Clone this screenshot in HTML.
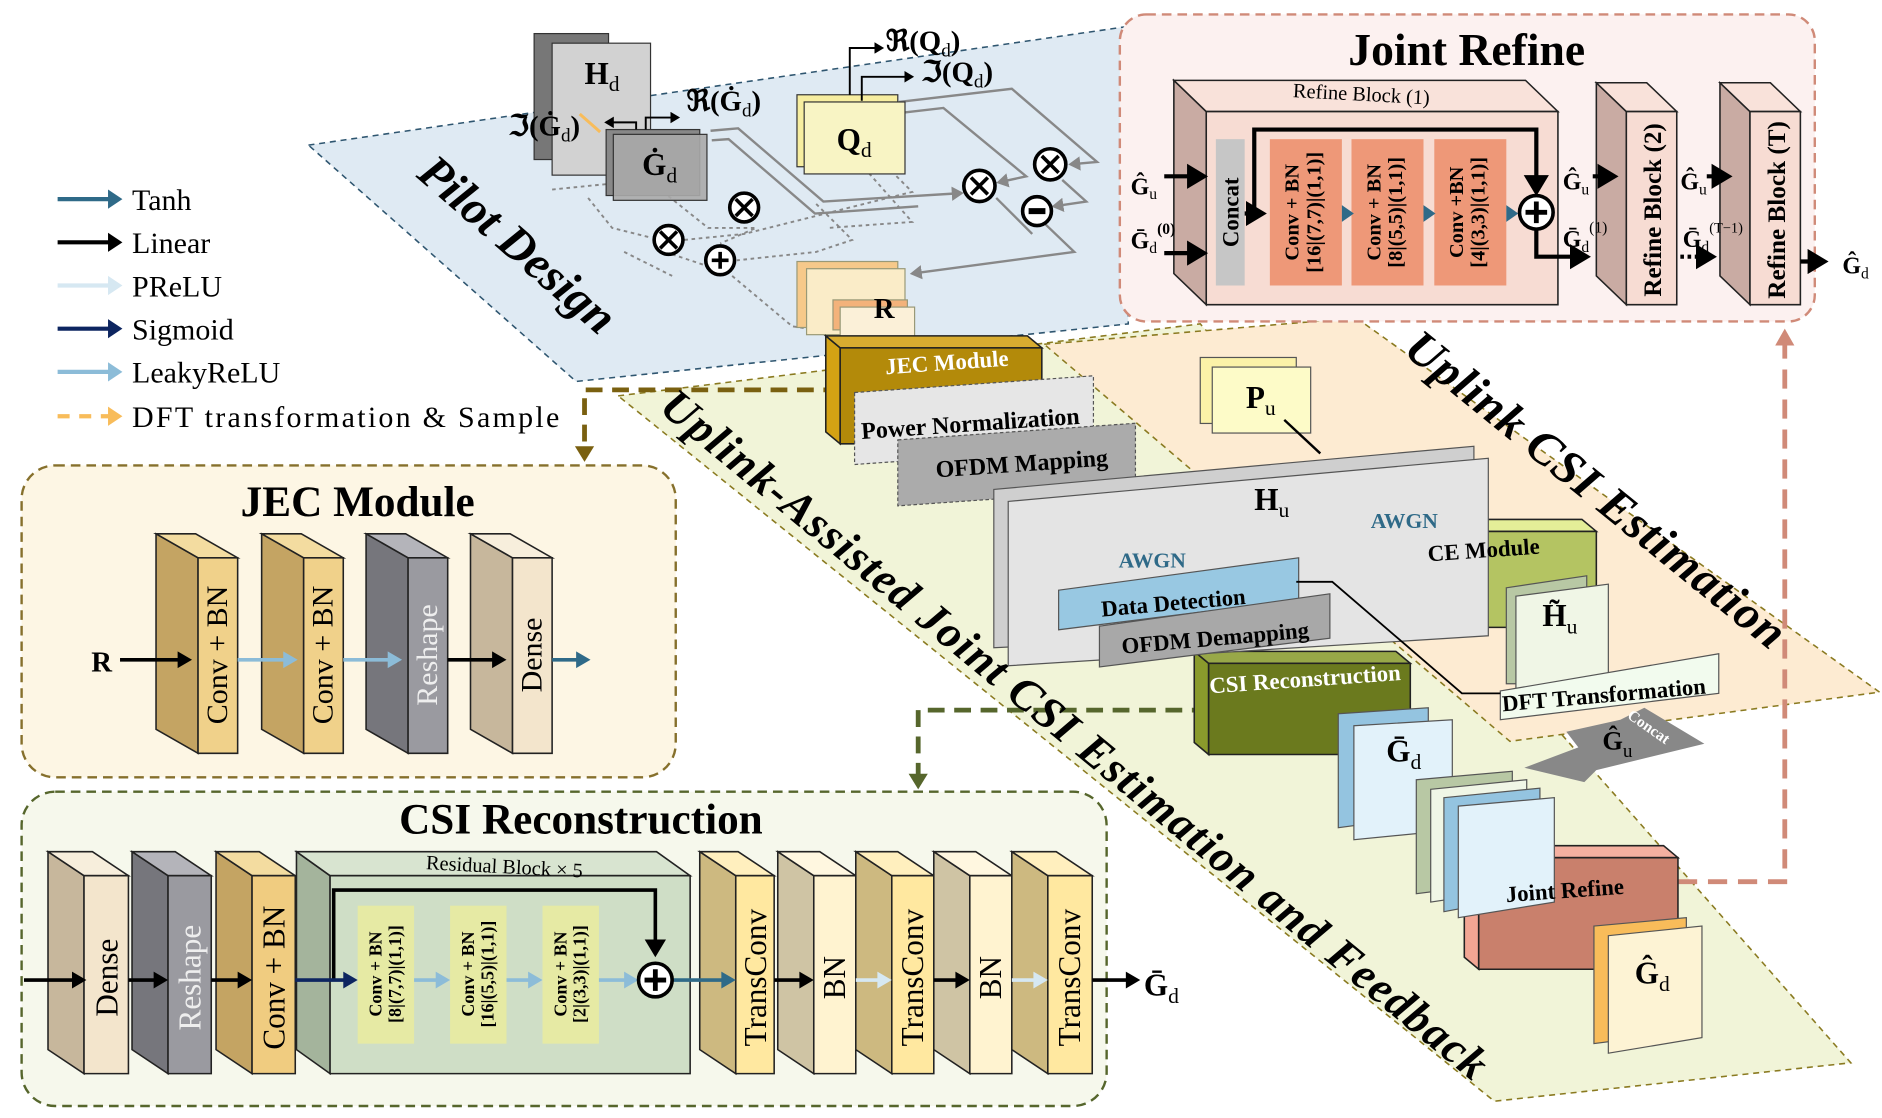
<!DOCTYPE html>
<html><head><meta charset="utf-8">
<style>
html,body{margin:0;padding:0;background:#fff;}
svg{display:block;}
text{font-family:"Liberation Serif",serif;}
.b{font-weight:bold;}
</style></head>
<body>
<svg id="s" width="1882" height="1118" viewBox="0 0 1568 932" preserveAspectRatio="none" xmlns="http://www.w3.org/2000/svg">
<defs>
<marker id="ak" markerWidth="6" markerHeight="6" refX="4" refY="3" orient="auto" markerUnits="strokeWidth"><path d="M0,0 L5,3 L0,6 z" fill="#000"/></marker>
<marker id="ag" markerWidth="6" markerHeight="6" refX="4" refY="3" orient="auto" markerUnits="strokeWidth"><path d="M0,0 L5,3 L0,6 z" fill="#888"/></marker>
</defs>
<polygon points="515,330 1000,270 1542,886 1245,918" fill="#f1f4d8" stroke="#8a7a20" stroke-width="1.3" stroke-dasharray="5,4"/>
<polygon points="870,287 1130,265 1566,577 1258,618" fill="#fdebd2" stroke="#8a7a20" stroke-width="1.3" stroke-dasharray="5,4"/>
<polygon points="257,121 940,22 940,270 480,318" fill="#dfeaf3" stroke="#2f5670" stroke-width="1.3" stroke-dasharray="5,4"/>

<rect x="933" y="12" width="579" height="256" rx="22" fill="#fcf1f0" stroke="#d08a78" stroke-width="2" stroke-dasharray="8,5"/>
<rect x="18" y="388" width="545" height="260" rx="28" fill="#fdf6e4" stroke="#86702c" stroke-width="2" stroke-dasharray="8,5"/>
<rect x="18" y="660" width="904" height="262" rx="28" fill="#f6f8ec" stroke="#56662c" stroke-width="2" stroke-dasharray="8,5"/>

<polyline points="700,325 487,325 487,375" fill="none" stroke="#7a6010" stroke-width="4" stroke-dasharray="14,8"/>
<polygon points="479,372 495,372 487,385" fill="#7a6010"/>
<polyline points="1007,592 765,592 765,648" fill="none" stroke="#56662c" stroke-width="4" stroke-dasharray="14,8"/>
<polygon points="757,645 773,645 765,658" fill="#56662c"/>
<polyline points="1398,735 1487,735 1487,285" fill="none" stroke="#d08a78" stroke-width="4" stroke-dasharray="16,9"/>
<polygon points="1479,288 1495,288 1487,274" fill="#d08a78"/>

<g stroke="#888" stroke-width="2" fill="none">
<polyline points="592,109 615,107 686,168 801,161" marker-end="url(#ag)"/>
<polyline points="593,117 607,116 679,178 765,172"/>
<polyline points="749,85 843,74 914,135 892,137" marker-end="url(#ag)"/>
<polyline points="751,94 786,90 855,147 832,152" marker-end="url(#ag)"/>
<polyline points="871,187 895,210 760,228" marker-end="url(#ag)"/>
<polyline points="830,165 860,195" />
<polyline points="885,150 905,168 878,172" marker-end="url(#ag)"/>
</g>
<g stroke="#888" stroke-width="1.6" fill="none" stroke-dasharray="3,3">
<polyline points="460,158 540,150 590,190 630,190 600,203"/>
<polyline points="490,165 510,190 542,198"/>
<polyline points="560,212 590,222"/>
<polyline points="670,135 730,130 760,160 620,195 570,200"/>
<polyline points="680,170 710,200 680,210 614,217"/>
<polyline points="720,140 760,185 690,190"/>
<polyline points="610,230 660,272 680,275"/>
<polyline points="520,210 560,230"/>
</g>
<g stroke="#000" stroke-width="3" fill="#fff">
<circle cx="557" cy="200" r="12"/><circle cx="600" cy="217" r="12"/><circle cx="620" cy="173" r="12"/>
<circle cx="816" cy="155" r="13"/><circle cx="875" cy="137" r="13"/><circle cx="864" cy="176" r="12"/>
</g>
<g stroke="#000" stroke-width="3">
<path d="M550,193 l14,14 M564,193 l-14,14"/><path d="M593,217 h14 M600,210 v14"/><path d="M613,166 l14,14 M627,166 l-14,14"/>
<path d="M809,148 l14,14 M823,148 l-14,14"/><path d="M868,130 l14,14 M882,130 l-14,14"/><path d="M857,176 h14" stroke-width="5"/>
</g>
<rect x="445" y="28" width="62" height="105" fill="#777" stroke="#333"/>
<rect x="460" y="36" width="82" height="110" fill="#d2d2d2" stroke="#333"/>
<text x="487" y="70" font-size="26" class="b">H<tspan font-size="18" dy="6" font-weight="normal">d</tspan></text>
<rect x="505" y="108" width="78" height="55" fill="#888" stroke="#333"/>
<rect x="511" y="112" width="78" height="55" fill="#aaa" stroke="#333" fill-opacity="0.9"/>
<text x="535" y="146" font-size="26" class="b">Ġ<tspan font-size="18" dy="6" font-weight="normal">d</tspan></text>
<text x="424" y="113" font-size="24" class="b">ℑ(Ġ<tspan font-size="16" dy="5" font-weight="normal">d</tspan><tspan dy="-5">)</tspan></text>
<text x="572" y="92" font-size="24" class="b">ℜ(Ġ<tspan font-size="16" dy="5" font-weight="normal">d</tspan><tspan dy="-5">)</tspan></text>
<polyline points="538,108 538,98 565,98" fill="none" stroke="#000" stroke-width="1.6" marker-end="url(#ak)"/>
<polyline points="530,108 530,102 505,102" fill="none" stroke="#000" stroke-width="1.6" marker-end="url(#ak)"/>
<line x1="483" y1="95" x2="500" y2="110" stroke="#f8bc5a" stroke-width="2.5"/>
<rect x="664" y="79" width="84" height="60" fill="#f7eea0" stroke="#333"/>
<rect x="670" y="85" width="84" height="60" fill="#f8f4c4" stroke="#333"/>
<text x="697" y="125" font-size="26" class="b">Q<tspan font-size="18" dy="6" font-weight="normal">d</tspan></text>
<polyline points="708,79 708,40 735,40" fill="none" stroke="#000" stroke-width="1.6" marker-end="url(#ak)"/>
<polyline points="718,84 718,64 760,64" fill="none" stroke="#000" stroke-width="1.6" marker-end="url(#ak)"/>
<text x="738" y="42" font-size="24" class="b">ℜ(Q<tspan font-size="16" dy="5" font-weight="normal">d</tspan><tspan dy="-5">)</tspan></text>
<text x="768" y="68" font-size="24" class="b">ℑ(Q<tspan font-size="16" dy="5" font-weight="normal">d</tspan><tspan dy="-5">)</tspan></text>
<rect x="664" y="218" width="84" height="55" fill="#f6c98a" stroke="#997"/>
<rect x="672" y="224" width="82" height="55" fill="#faecc8" stroke="#997"/>
<rect x="694" y="250" width="62" height="25" fill="#f3b27a" stroke="#997"/>
<rect x="700" y="256" width="62" height="25" fill="#fbf0d8" stroke="#997"/>
<text x="728" y="265" font-size="24" class="b">R</text>
<text x="0" y="0" font-size="40" class="b" font-style="italic" transform="translate(346,147) rotate(41)">Pilot Design</text>

<g stroke-width="3.5">
<line x1="48" y1="166" x2="92" y2="166" stroke="#2f6a88"/><polygon points="90,158 102,166 90,174" fill="#2f6a88"/>
<line x1="48" y1="202" x2="92" y2="202" stroke="#000"/><polygon points="90,194 102,202 90,210" fill="#000"/>
<line x1="48" y1="238" x2="92" y2="238" stroke="#d6e8f2"/><polygon points="90,230 102,238 90,246" fill="#d6e8f2"/>
<line x1="48" y1="274" x2="92" y2="274" stroke="#0d2560"/><polygon points="90,266 102,274 90,282" fill="#0d2560"/>
<line x1="48" y1="310" x2="92" y2="310" stroke="#8cbcd8"/><polygon points="90,302 102,310 90,318" fill="#8cbcd8"/>
<line x1="48" y1="347" x2="92" y2="347" stroke="#f8bc5a" stroke-dasharray="10,8"/><polygon points="90,339 102,347 90,355" fill="#f8bc5a"/>
</g>
<g font-size="25">
<text x="110" y="175">Tanh</text><text x="110" y="211">Linear</text><text x="110" y="247">PReLU</text>
<text x="110" y="283">Sigmoid</text><text x="110" y="319">LeakyReLU</text><text x="110" y="356" textLength="356">DFT transformation &amp; Sample</text>
</g>

<g id="blocks"></g>
<rect x="712" y="319" width="199" height="60" fill="#e6e6e6" stroke="#555" stroke-dasharray="3,2" transform="skewY(-4) translate(0,58)"/>
<rect x="748" y="357" width="198" height="55" fill="#ababab" stroke="#555" stroke-dasharray="3,2" transform="skewY(-4) translate(0,62)"/>
<text x="718" y="366" font-size="20" class="b" transform="rotate(-4 718 366)">Power Normalization</text>
<text x="780" y="398" font-size="20" class="b" transform="rotate(-4 780 398)">OFDM Mapping</text>
<rect x="1000" y="298" width="80" height="55" fill="#fbf2a8" stroke="#555"/>
<rect x="1010" y="306" width="82" height="55" fill="#fdfbc8" stroke="#555"/>
<text x="1038" y="340" font-size="26" class="b">P<tspan font-size="18" dy="6" font-weight="normal">u</tspan></text>
<line x1="1070" y1="350" x2="1100" y2="378" stroke="#000" stroke-width="2"/>
<polygon points="828,408 1228,372 1228,520 828,540" fill="#cfcfcf" stroke="#555"/>
<polygon points="840,418 1240,382 1240,530 840,555" fill="#e4e4e4" stroke="#555"/>
<text x="1045" y="425" font-size="26" class="b">H<tspan font-size="18" dy="6" font-weight="normal">u</tspan></text>
<text x="932" y="473" font-size="18" fill="#2f6a88" class="b">AWGN</text>
<text x="1142" y="440" font-size="18" fill="#2f6a88" class="b">AWGN</text>
<polygon points="882,492 1082,465 1082,500 882,525" fill="#98c8e2" stroke="#555"/>
<text x="918" y="514" font-size="19" class="b" transform="rotate(-5 918 514)">Data Detection</text>
<polygon points="916,522 1108,495 1108,532 916,556" fill="#a8a8a8" stroke="#555"/>
<text x="935" y="545" font-size="19" class="b" transform="rotate(-5 935 545)">OFDM Demapping</text>
<polygon points="1255,490 1322,480 1322,570 1255,570" fill="#b8c8a4" stroke="#555"/>
<polygon points="1263,497 1340,487 1340,575 1263,578" fill="#f0f6e6" stroke="#555"/>
<text x="1285" y="522" font-size="26" class="b">H̃<tspan font-size="18" dy="6" font-weight="normal">u</tspan></text>
<polygon points="1250,576 1432,545 1432,578 1250,600" fill="#f2fbee" stroke="#555"/>
<text x="1252" y="593" font-size="19" class="b" transform="rotate(-5 1252 593)">DFT Transformation</text>
<polyline points="1080,485 1110,485 1218,578 1250,578" fill="none" stroke="#000" stroke-width="1.5"/>
<polygon points="1370,590 1420,620 1330,642 1320,652 1270,640 1315,623 1305,610 1350,600" fill="#888"/>
<text x="1355" y="598" font-size="13" fill="#fff" class="b" transform="rotate(35 1355 598)">Concat</text>
<text x="1335" y="625" font-size="22" class="b">Ĝ<tspan font-size="16" dy="6" font-weight="normal">u</tspan></text>
<polygon points="1115,595 1190,590 1190,680 1115,690" fill="#94c4e0" stroke="#555"/>
<polygon points="1128,605 1210,600 1210,692 1128,700" fill="#e2f2fa" stroke="#555"/>
<text x="1155" y="635" font-size="26" class="b">Ḡ<tspan font-size="18" dy="6" font-weight="normal">d</tspan></text>
<polygon points="1180,650 1260,643 1260,735 1180,745" fill="#b8c8a4" stroke="#555"/>
<polygon points="1192,658 1272,650 1272,740 1192,752" fill="#f0f6e6" stroke="#555"/>
<polygon points="1203,665 1283,657 1283,745 1203,760" fill="#94c4e0" stroke="#555"/>
<polygon points="1215,672 1295,665 1295,752 1215,765" fill="#e2f2fa" stroke="#555"/>
<polygon points="1328,772 1405,765 1405,860 1328,870" fill="#f8bc5a" stroke="#555"/>
<polygon points="1340,780 1418,772 1418,865 1340,878" fill="#fdf3d4" stroke="#555"/>
<text x="1362" y="820" font-size="26" class="b">Ĝ<tspan font-size="18" dy="6" font-weight="normal">d</tspan></text>
<text x="738" y="312" font-size="19" fill="#fff" class="b" transform="rotate(-4 738 312)">JEC Module</text>
<text x="1008" y="578" font-size="19" fill="#fff" class="b" transform="rotate(-4 1008 578)">CSI Reconstruction</text>
<text x="1190" y="468" font-size="19" class="b" transform="rotate(-4 1190 468)">CE Module</text>
<text x="1255" y="752" font-size="19" class="b" transform="rotate(-4 1255 752)">Joint Refine</text>
<text x="0" y="0" font-size="38" class="b" font-style="italic" textLength="880" transform="translate(548,342) rotate(39.5)">Uplink-Assisted Joint  CSI Estimation and Feedback</text>
<text x="0" y="0" font-size="40" class="b" font-style="italic" textLength="395" transform="translate(1168,294) rotate(39)">Uplink CSI Estimation</text>

<text x="1222" y="54" font-size="38" class="b" text-anchor="middle">Joint Refine</text>
<text x="1134" y="84" font-size="17" text-anchor="middle" transform="rotate(3 1134 84)">Refine Block (1)</text>
<rect x="1013" y="116" width="24" height="122" fill="#c6c6c6"/>
<text x="1032" y="177" font-size="19" class="b" text-anchor="middle" transform="rotate(-90 1032 177)">Concat</text>
<rect x="1058" y="116" width="60" height="122" fill="#ee9878"/>
<rect x="1126" y="116" width="60" height="122" fill="#ee9878"/>
<rect x="1195" y="116" width="60" height="122" fill="#ee9878"/>
<g font-size="17" class="b" text-anchor="middle">
<text transform="translate(1082,177) rotate(-90)">Conv + BN</text><text transform="translate(1100,177) rotate(-90)">[16|(7,7)|(1,1)]</text>
<text transform="translate(1150,177) rotate(-90)">Conv + BN</text><text transform="translate(1168,177) rotate(-90)">[8|(5,5)|(1,1)]</text>
<text transform="translate(1219,177) rotate(-90)">Conv +BN</text><text transform="translate(1237,177) rotate(-90)">[4|(3,3)|(1,1)]</text>
<text transform="translate(1384,175) rotate(-90)" font-size="21">Refine Block (2)</text>
<text transform="translate(1487,175) rotate(-90)" font-size="21">Refine Block (T)</text>
</g>
<g stroke="#000" stroke-width="3.5" fill="none">
<polyline points="1045,178 1045,108 1280,108 1280,160" marker-end="url(#ak)"/>
<line x1="1037" y1="178" x2="1052" y2="178" marker-end="url(#ak)"/>
<line x1="970" y1="147" x2="1003" y2="147" marker-end="url(#ak)"/>
<line x1="970" y1="211" x2="1003" y2="211" marker-end="url(#ak)"/>
<polyline points="1280,192 1280,214 1322,214" marker-end="url(#ak)"/>
<line x1="1327" y1="147" x2="1345" y2="147" marker-end="url(#ak)"/>
<line x1="1400" y1="214" x2="1418" y2="214" stroke-dasharray="3,3"/>
<line x1="1418" y1="214" x2="1427" y2="214" marker-end="url(#ak)"/>
<line x1="1500" y1="218" x2="1520" y2="218" marker-end="url(#ak)"/>
<line x1="1422" y1="147" x2="1440" y2="147" marker-end="url(#ak)"/>
</g>
<g fill="#2f6a88"><polygon points="1118,171 1128,178 1118,185"/><polygon points="1186,171 1196,178 1186,185"/><polygon points="1255,171 1265,178 1255,185"/></g>
<circle cx="1280" cy="177" r="14" fill="#fff" stroke="#000" stroke-width="3"/>
<path d="M1271,177 h18 M1280,168 v18" stroke="#000" stroke-width="4"/>
<g font-size="20" class="b">
<text x="942" y="162">Ĝ<tspan font-size="13" dy="4" font-weight="normal">u</tspan></text>
<text x="942" y="207">Ḡ<tspan font-size="13" dy="4" font-weight="normal">d</tspan><tspan font-size="13" dy="-16">(0)</tspan></text>
<text x="1302" y="158">Ĝ<tspan font-size="13" dy="4" font-weight="normal">u</tspan></text>
<text x="1302" y="206">Ḡ<tspan font-size="13" dy="4" font-weight="normal">d</tspan><tspan font-size="13" dy="-16" font-weight="normal">(1)</tspan></text>
<text x="1400" y="158">Ĝ<tspan font-size="13" dy="4" font-weight="normal">u</tspan></text>
<text x="1402" y="206">Ḡ<tspan font-size="13" dy="4" font-weight="normal">d</tspan><tspan font-size="12" dy="-16" font-weight="normal">(T−1)</tspan></text>
<text x="1535" y="228">Ĝ<tspan font-size="13" dy="4" font-weight="normal">d</tspan></text>
</g>

<text x="298" y="430" font-size="36" class="b" text-anchor="middle">JEC Module</text>
<g font-size="25" text-anchor="middle">
<text transform="translate(189,546) rotate(-90)">Conv + BN</text>
<text transform="translate(277,546) rotate(-90)">Conv + BN</text>
<text transform="translate(364,546) rotate(-90)" fill="#eee">Reshape</text>
<text transform="translate(451,546) rotate(-90)">Dense</text>
</g>
<text x="76" y="560" font-size="24" class="b">R</text>
<g stroke-width="3">
<line x1="100" y1="550" x2="150" y2="550" stroke="#000"/><polygon points="148,543 160,550 148,557" fill="#000"/>
<line x1="198" y1="550" x2="238" y2="550" stroke="#8cbcd8"/><polygon points="236,543 248,550 236,557" fill="#8cbcd8"/>
<line x1="286" y1="550" x2="325" y2="550" stroke="#8cbcd8"/><polygon points="323,543 335,550 323,557" fill="#8cbcd8"/>
<line x1="373" y1="550" x2="412" y2="550" stroke="#000"/><polygon points="410,543 422,550 410,557" fill="#000"/>
<line x1="460" y1="550" x2="482" y2="550" stroke="#2f6a88"/><polygon points="480,543 492,550 480,557" fill="#2f6a88"/>
</g>

<text x="484" y="695" font-size="36" class="b" text-anchor="middle">CSI Reconstruction</text>
<text x="420" y="728" font-size="17" text-anchor="middle" transform="rotate(3 420 728)">Residual Block × 5</text>
<rect x="298" y="755" width="47" height="115" fill="#e6eaa4"/>
<rect x="375" y="755" width="47" height="115" fill="#e6eaa4"/>
<rect x="452" y="755" width="47" height="115" fill="#e6eaa4"/>
<g font-size="15" class="b" text-anchor="middle">
<text transform="translate(318,812) rotate(-90)">Conv + BN</text><text transform="translate(334,812) rotate(-90)">[8|(7,7)|(1,1)]</text>
<text transform="translate(395,812) rotate(-90)">Conv + BN</text><text transform="translate(411,812) rotate(-90)">[16|(5,5)|(1,1)]</text>
<text transform="translate(472,812) rotate(-90)">Conv + BN</text><text transform="translate(488,812) rotate(-90)">[2|(3,3)|(1,1)]</text>
</g>
<g font-size="26" text-anchor="middle">
<text transform="translate(98,815) rotate(-90)">Dense</text>
<text transform="translate(167,815) rotate(-90)" fill="#eee">Reshape</text>
<text transform="translate(237,815) rotate(-90)">Conv + BN</text>
<text transform="translate(638,815) rotate(-90)">TransConv</text>
<text transform="translate(704,815) rotate(-90)">BN</text>
<text transform="translate(769,815) rotate(-90)">TransConv</text>
<text transform="translate(834,815) rotate(-90)">BN</text>
<text transform="translate(900,815) rotate(-90)">TransConv</text>
</g>
<g stroke-width="3">
<polyline points="278,817 278,742 546,742 546,795" fill="none" stroke="#000" marker-end="url(#ak)"/>
<line x1="20" y1="817" x2="62" y2="817" stroke="#000"/><polygon points="60,810 72,817 60,824" fill="#000"/>
<line x1="107" y1="817" x2="130" y2="817" stroke="#000"/><polygon points="128,810 140,817 128,824" fill="#000"/>
<line x1="176" y1="817" x2="200" y2="817" stroke="#000"/><polygon points="198,810 210,817 198,824" fill="#000"/>
<line x1="246" y1="817" x2="288" y2="817" stroke="#0d2560"/><polygon points="286,810 298,817 286,824" fill="#0d2560"/>
<line x1="345" y1="817" x2="365" y2="817" stroke="#8cbcd8"/><polygon points="363,810 375,817 363,824" fill="#8cbcd8"/>
<line x1="422" y1="817" x2="442" y2="817" stroke="#8cbcd8"/><polygon points="440,810 452,817 440,824" fill="#8cbcd8"/>
<line x1="499" y1="817" x2="522" y2="817" stroke="#8cbcd8"/><polygon points="520,810 532,817 520,824" fill="#8cbcd8"/>
<line x1="560" y1="817" x2="603" y2="817" stroke="#2f6a88"/><polygon points="601,810 613,817 601,824" fill="#2f6a88"/>
<line x1="645" y1="817" x2="668" y2="817" stroke="#000"/><polygon points="666,810 678,817 666,824" fill="#000"/>
<line x1="713" y1="817" x2="733" y2="817" stroke="#d6e8f2"/><polygon points="731,810 743,817 731,824" fill="#d6e8f2"/>
<line x1="778" y1="817" x2="798" y2="817" stroke="#000"/><polygon points="796,810 808,817 796,824" fill="#000"/>
<line x1="843" y1="817" x2="863" y2="817" stroke="#d6e8f2"/><polygon points="861,810 873,817 861,824" fill="#d6e8f2"/>
<line x1="910" y1="817" x2="940" y2="817" stroke="#000"/><polygon points="938,810 950,817 938,824" fill="#000"/>
</g>
<circle cx="546" cy="817" r="14" fill="#fff" stroke="#000" stroke-width="3"/>
<path d="M537,817 h18 M546,808 v18" stroke="#000" stroke-width="4"/>
<text x="953" y="830" font-size="26" class="b">Ḡ<tspan font-size="18" dy="6" font-weight="normal">d</tspan></text>
</svg>
<script>
(function(){
var g=document.getElementById('blocks');
function b(x,y,w,h,dx,dy,f,s,t){
 var p=function(pts,c){var e=document.createElementNS('http://www.w3.org/2000/svg','polygon');e.setAttribute('points',pts);e.setAttribute('fill',c);e.setAttribute('stroke','#222');e.setAttribute('stroke-width','1.3');g.appendChild(e);};
 p((x-dx)+','+(y-dy)+' '+x+','+y+' '+x+','+(y+h)+' '+(x-dx)+','+(y+h-dy),s);
 p((x-dx)+','+(y-dy)+' '+(x+w-dx)+','+(y-dy)+' '+(x+w)+','+y+' '+x+','+y,t);
 p(x+','+y+' '+(x+w)+','+y+' '+(x+w)+','+(y+h)+' '+x+','+(y+h),f);
}
var jy=465,jh=163;
b(165,jy,33,jh,35,20,'#f0d18a','#c4a463','#f3dca0');
b(253,jy,33,jh,35,20,'#f0d18a','#c4a463','#f3dca0');
b(340,jy,33,jh,35,20,'#9a9aa0','#76767c','#b4b4ba');
b(427,jy,33,jh,35,20,'#f3e5cc','#c7b79c','#f7eedc');
var cy=730,ch=165;
b(70,cy,37,ch,30,20,'#f3e5cc','#c7b79c','#f7eedc');
b(140,cy,36,ch,30,20,'#9a9aa0','#76767c','#b4b4ba');
b(210,cy,36,ch,30,20,'#f0cc80','#c4a463','#f3dca0');
b(275,cy,300,ch,28,20,'#cfdec6','#a4b49c','#d8e4d0');
b(613,cy,32,ch,30,20,'#ffe8a0','#cdb980','#ffefbe');
b(678,cy,35,ch,30,20,'#fff3d0','#cfc4a4','#fff7e0');
b(743,cy,35,ch,30,20,'#ffe8a0','#cdb980','#ffefbe');
b(808,cy,35,ch,30,20,'#fff3d0','#cfc4a4','#fff7e0');
b(873,cy,37,ch,30,20,'#ffe8a0','#cdb980','#ffefbe');
b(1005,93,293,161,27,26,'#f7dcd3','#c9aba3','#f9e2da');
b(1355,93,42,161,25,24,'#f7dcd3','#c9aba3','#f9e2da');
b(1458,93,42,161,25,24,'#f7dcd3','#c9aba3','#f9e2da');
b(700,290,168,80,12,10,'#b38a0a','#d4a214','#d8ac30');
b(1158,443,172,80,12,10,'#b4c462','#dde88a','#e4ee98');
b(1007,553,168,76,12,10,'#6b7a1e','#8a9a2c','#98a848');
b(1232,715,166,93,12,10,'#c9806c','#f2a694','#f4b0a0');
})();
</script>
</body></html>
